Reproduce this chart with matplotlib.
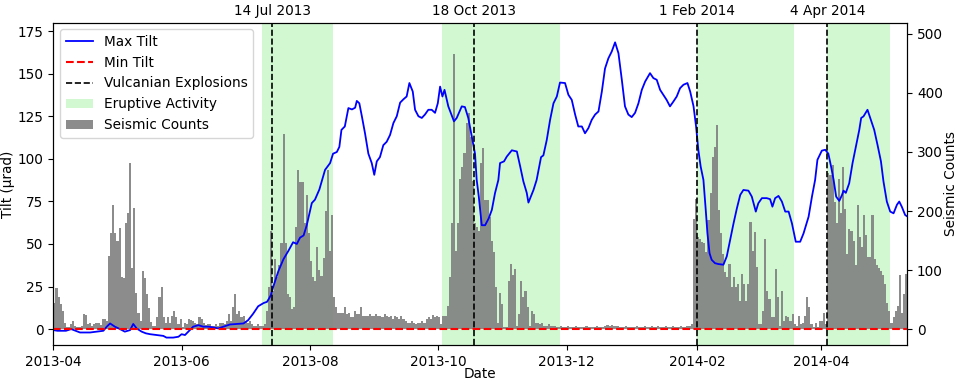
import numpy as np
import pandas as pd
import matplotlib
matplotlib.use('Agg')
import matplotlib.pyplot as plt
import matplotlib.dates as mdates
from matplotlib.patches import Patch
from matplotlib.lines import Line2D

plt.rcParams['font.family'] = 'DejaVu Sans'
plt.rcParams['font.size'] = 9.8

START = '2013-04-01'
END = '2014-05-12'

# daily seismic counts, one list per month
counts_2013_04 = [45, 70, 55, 43, 31, 11, 3, 3, 8, 14, 6, 4, 4, 6, 25, 24, 8, 11, 6, 8,
                  11, 11, 7, 17, 17, 14, 123, 163, 211, 163]
counts_2013_05 = [149, 171, 89, 86, 180, 197, 281, 103, 205, 61, 27, 14, 98, 86, 60, 35, 12, 6, 6, 20,
                  54, 71, 20, 11, 20, 11, 23, 31, 20, 8, 17]
counts_2013_06 = [4, 11, 9, 18, 15, 14, 10, 8, 21, 18, 11, 7, 8, 8, 6, 6, 8, 6, 11, 11,
                  8, 14, 25, 14, 37, 60, 25, 30, 20, 23]
counts_2013_07 = [14, 11, 14, 8, 6, 6, 8, 6, 5, 8, 30, 71, 167, 65, 119, 88, 108, 145, 330, 145,
                  60, 54, 34, 37, 173, 269, 249, 249, 179, 227, 162]
counts_2013_08 = [116, 88, 82, 139, 100, 90, 120, 200, 269, 133, 193, 54, 37, 28, 28, 27, 37, 25, 28, 20,
                  20, 31, 25, 25, 37, 23, 23, 23, 25, 23, 23]
counts_2013_09 = [25, 23, 23, 20, 25, 23, 20, 23, 17, 23, 20, 17, 23, 17, 14, 11, 11, 14, 11, 8,
                  11, 11, 14, 11, 17, 20, 17, 24, 20, 23]
counts_2013_10 = [20, 8, 23, 23, 40, 88, 179, 466, 133, 179, 255, 275, 298, 349, 366, 326, 250, 179, 173, 167,
                  281, 306, 218, 218, 190, 150, 130, 71, 11, 62, 43]
counts_2013_11 = [3, 3, 82, 110, 91, 102, 6, 25, 82, 54, 65, 37, 6, 31, 25, 11, 11, 8, 11, 6,
                  6, 8, 6, 6, 5, 4, 4, 5, 4, 4]
counts_2013_12 = [5, 4, 3, 4, 5, 3, 4, 3, 4, 5, 3, 4, 4, 3, 5, 4, 3, 4, 6, 7,
                  6, 7, 6, 5, 6, 4, 3, 4, 5, 3, 4]
counts_2014_01 = [4, 3, 5, 4, 3, 4, 5, 3, 4, 6, 4, 3, 5, 4, 3, 4, 5, 4, 3, 5,
                  4, 3, 4, 6, 4, 3, 5, 6, 8, 187, 221]
counts_2014_02 = [156, 153, 147, 145, 130, 184, 230, 292, 309, 346, 201, 162, 128, 96, 88, 110, 71, 88, 71, 77,
                  48, 94, 77, 48, 77, 181, 133, 164]
counts_2014_03 = [105, 9, 9, 30, 153, 65, 51, 20, 20, 102, 54, 6, 65, 14, 23, 20, 14, 25, 9, 6,
                  23, 9, 11, 23, 54, 37, 9, 3, 11, 3, 14]
counts_2014_04 = [14, 28, 9, 264, 261, 278, 215, 180, 255, 196, 275, 204, 128, 170, 167, 150, 108, 210, 156, 139,
                  193, 160, 122, 122, 193, 119, 108, 104, 99, 91]
counts_2014_05 = [77, 45, 31, 11, 20, 31, 40, 91, 28, 60, 94, 62]

# max tilt readings: (days since 2013-04-01, tilt in microradians)
max_tilt_readings = [
    (0, -0.6), (2, -1), (6, -1), (8.5, 0), (12.7, -2), (17.5, -2), (20.6, -1.5), (23.8, -1), (25.4, 1.4), (27, 3.3),
    (29.3, 1.4), (31.7, 0), (34, -1.5), (36.5, -0.6), (38, 3), (39.6, 0.4), (42, -1.5), (44, -2.5), (46, -3), (49, -3.5),
    (52.3, -4), (53.8, -5), (57, -5), (59.5, -4.5), (61, -3), (62.6, -3.5), (64.2, -1.5), (66.5, 1.4), (69, 2.3), (71.3, 1.4),
    (73.7, 1.4), (76, 1), (78.4, 0.4), (80.8, 1.4), (84, 2.7), (87.2, 3), (90.4, 3.3), (92.6, 5.2), (95, 9), (97.4, 13.4),
    (100, 15.3), (101.6, 16), (102.5, 17.8), (103.4, 19.8), (104.6, 25), (107, 34), (109.4, 41), (111.8, 46), (114, 51), (115.8, 50),
    (117.3, 53.7), (119, 55), (120.5, 61), (122.9, 74), (124.4, 76), (126.5, 82), (129.2, 93.5), (131.6, 97.5), (133, 103), (134.8, 104),
    (136, 107), (137, 117), (138.6, 119), (140.3, 129.8), (142, 129), (143.5, 130), (144.3, 134), (145.5, 132.6), (146.7, 125), (148.2, 115),
    (149.8, 103), (151.4, 97.5), (152.6, 90.6), (153.8, 98.5), (155.3, 101), (156.9, 108), (158.5, 110), (160.1, 114), (161.7, 121), (163.3, 125),
    (164.9, 133), (166.5, 135), (168, 136.6), (169.3, 144.5), (170.9, 139.5), (172, 128.8), (173.6, 125), (175.2, 124), (176.7, 126), (178.3, 128.8),
    (179.9, 128.8), (181.5, 127), (182.8, 132.6), (183.9, 142.4), (185, 136.6), (186, 140.5), (187.8, 130.8), (189, 126.9), (190.5, 122), (191.8, 124),
    (194.2, 130.8), (195.7, 130.4), (197.3, 124), (199, 113), (200.5, 103), (201.3, 87.6), (202.3, 77.8), (203.7, 61), (205.3, 61), (207, 65),
    (208.5, 70), (210, 79.8), (211.6, 87.6), (212.4, 97.5), (214.3, 98.5), (215.6, 101.3), (218, 105), (220.4, 104.3), (222, 95.4), (223.5, 86.7),
    (225.1, 80), (225.9, 74.3), (228.3, 81.7), (229.8, 87.6), (231.9, 101), (233, 102), (234.6, 111), (236.2, 122.9), (237.8, 132.6), (239.4, 136.6),
    (240.9, 144.8), (243.3, 144.5), (244.9, 137.6), (246.5, 134.6), (248.1, 126), (249.6, 119), (251.3, 119), (252.8, 115), (254.4, 118), (256, 122.9),
    (257.6, 126), (259.2, 127.8), (260.8, 139.5), (262.3, 153), (263.9, 159), (265.5, 163), (267.1, 168.4), (268.7, 162), (270.3, 146.4), (271.8, 130.8),
    (273.4, 126), (275, 124.5), (276.6, 127), (278.2, 132.6), (279.8, 140.5), (281.4, 145.4), (283.7, 150.3), (285.3, 147.4), (286.9, 146.4), (288.5, 140.5),
    (290, 137.6), (291.6, 134.6), (293.2, 130.8), (294.8, 133.6), (296.4, 136.6), (298, 141.5), (299.6, 143.5), (301.5, 144.5), (302.8, 139.5), (304.4, 130.8),
    (305.6, 119), (306.7, 105), (307.8, 95.4), (309.1, 87.6), (310.2, 70), (311, 56.3), (312, 44.6), (313, 40.7), (314.6, 38.7), (316.2, 38.2),
    (318.6, 37.8), (320.2, 42.7), (321.8, 52.4), (323.4, 62), (325, 70.9), (326.6, 78.8), (328.1, 81.7), (330.5, 81.3), (332.1, 77.8), (334, 69),
    (335.2, 73.9), (336.9, 76.9), (339.2, 76.9), (340.8, 76.3), (341.9, 71.9), (343.2, 76.9), (344.8, 78.2), (346.4, 74.9), (348, 69), (349.6, 69),
    (351.2, 62), (353, 51.3), (355.1, 51.3), (356.7, 56.2), (359.1, 66), (360.7, 77.8), (362.2, 87.6), (363.3, 99.4), (365.4, 104.8), (367, 105.3),
    (368.5, 103), (369.8, 95.4), (371, 87.6), (372.2, 77.8), (373.7, 75.3), (375, 78.8), (375.7, 81.3), (376.8, 80), (378.4, 85.6), (380, 97.5),
    (381.6, 107.3), (383.2, 117), (384.1, 124), (385.2, 124.9), (387.1, 128.8), (388.7, 123), (390.3, 117), (391.9, 108), (393.5, 98.5), (394.7, 86.7),
    (396.3, 74.9), (397.9, 69), (399.5, 68), (401.1, 73), (402.2, 74.9), (403.4, 71.9), (405, 67), (406.2, 66),
]

min_tilt_day = [0, 406.2]
min_tilt = [0, 0]

explosion_dates = ['2013-07-14', '2013-10-18', '2014-02-01', '2014-04-04']
explosion_labels = ['14 Jul 2013', '18 Oct 2013', '1 Feb 2014', '4 Apr 2014']

eruptive_start = ['2013-07-09', '2013-10-03', '2014-02-01', '2014-04-04']
eruptive_end = ['2013-08-12', '2013-11-28', '2014-03-19', '2014-05-04']

# build series
start = pd.Timestamp(START)
counts = (counts_2013_04 + counts_2013_05 + counts_2013_06 + counts_2013_07 + counts_2013_08
          + counts_2013_09 + counts_2013_10 + counts_2013_11 + counts_2013_12 + counts_2014_01
          + counts_2014_02 + counts_2014_03 + counts_2014_04 + counts_2014_05)
count_dates = start + pd.to_timedelta(np.arange(len(counts)), unit='D')
tilt_day, tilt_max = zip(*max_tilt_readings)
tilt_dates = start + pd.to_timedelta(np.array(tilt_day), unit='D')
min_dates = start + pd.to_timedelta(np.array(min_tilt_day), unit='D')

fig, ax1 = plt.subplots(figsize=(9.57, 3.83), dpi=100)
fig.subplots_adjust(left=0.0557, right=0.948, bottom=0.099, top=0.941)
ax2 = ax1.twinx()
ax1.set_zorder(ax2.get_zorder() + 1)
ax1.patch.set_visible(False)

for s, e in zip(eruptive_start, eruptive_end):
    ax2.axvspan(pd.Timestamp(s), pd.Timestamp(e), color='lightgreen', alpha=0.4, lw=0, zorder=0)
ax2.bar(count_dates, counts, width=1.0, align='edge', color='gray', alpha=0.9, lw=0, zorder=1)

ax1.plot(tilt_dates, tilt_max, color='blue', lw=1.3)
ax1.plot(min_dates, min_tilt, color='red', ls='--', lw=1.5)
for d, lab in zip(explosion_dates, explosion_labels):
    ax1.axvline(pd.Timestamp(d), color='black', ls='--', lw=1.2)
    ax1.text(pd.Timestamp(d), 1.015, lab, transform=ax1.get_xaxis_transform(),
             ha='center', va='bottom')

ax1.set_xlim(start, pd.Timestamp(END))
ax1.set_ylim(-9.4, 180)
ax2.set_ylim(-27, 519)
ax1.set_yticks(np.arange(0, 176, 25))
ax2.set_yticks(np.arange(0, 501, 100))
ax1.xaxis.set_major_locator(mdates.MonthLocator(bymonth=[2, 4, 6, 8, 10, 12]))
ax1.xaxis.set_major_formatter(mdates.DateFormatter('%Y-%m'))

ax1.set_xlabel('Date', labelpad=-1.5)
ax1.set_ylabel('Tilt (µrad)', labelpad=1.5)
ax2.set_ylabel('Seismic Counts', labelpad=0.5)

handles = [
    Line2D([], [], color='blue', lw=1.3),
    Line2D([], [], color='red', ls='--', lw=1.5),
    Line2D([], [], color='black', ls='--', lw=1.2),
    Patch(facecolor='lightgreen', alpha=0.4),
    Patch(facecolor='gray', alpha=0.9),
]
labels = ['Max Tilt', 'Min Tilt', 'Vulcanian Explosions', 'Eruptive Activity', 'Seismic Counts']
ax1.legend(handles, labels, loc='upper left', fontsize=9.8)

fig.savefig('out.png', dpi=100)
